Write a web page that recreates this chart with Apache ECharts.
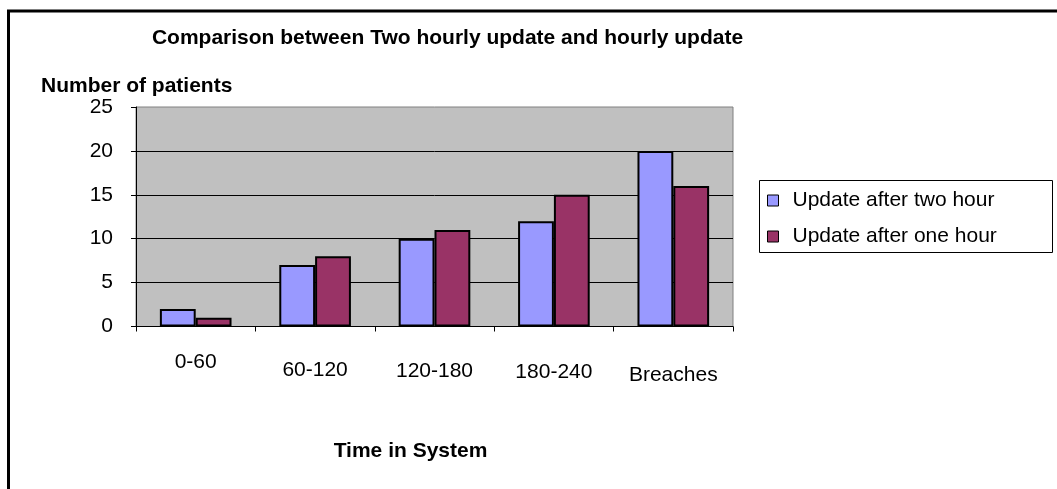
<!DOCTYPE html>
<html>
<head>
<meta charset="utf-8">
<script src="https://cdn.jsdelivr.net/npm/echarts@6/dist/echarts.min.js"></script>
<style>
  html, body { margin: 0; padding: 0; background: #fff; }
  #chart { width: 1057px; height: 489px; }
</style>
</head>
<body>
<div id="chart"></div>
<script>
var categories = ["0-60", "60-120", "120-180", "180-240", "Breaches"];
var twoHourly = [2, 7, 10, 12, 20];
var oneHourly = [1, 8, 11, 15, 16];
var seriesNames = ["Update after two hour", "Update after one hour"];
var yTicks = { min: 0, max: 25, step: 5 };

// the x labels sit at slightly different heights in the original
var labelDrop = [0, 8, 9, 10, 13];
var font = '"Liberation Sans", Arial, sans-serif';

var chart = echarts.init(document.getElementById("chart"));

chart.setOption({
  animation: false,
  textStyle: { fontFamily: font, color: "#000" },
  graphic: [
    {
      type: "polyline",
      shape: { points: [[8.5, 489], [8.5, 11], [1057, 11]] },
      style: { stroke: "#000", lineWidth: 3, fill: null }
    },
    {
      type: "text",
      x: 447.5,
      y: 38,
      style: {
        text: "Comparison between Two hourly update and hourly update",
        fontFamily: font, fontSize: 21, fontWeight: "bold", fill: "#000",
        align: "center", verticalAlign: "middle"
      }
    },
    {
      type: "text",
      x: 41,
      y: 86,
      style: {
        text: "Number of patients",
        fontFamily: font, fontSize: 21, fontWeight: "bold", fill: "#000",
        align: "left", verticalAlign: "middle"
      }
    },
    {
      type: "text",
      x: 410.5,
      y: 451,
      style: {
        text: "Time in System",
        fontFamily: font, fontSize: 21, fontWeight: "bold", fill: "#000",
        align: "center", verticalAlign: "middle"
      }
    },
    {
      type: "rect",
      shape: { x: 759.5, y: 180.5, width: 293, height: 72 },
      style: { stroke: "#000", lineWidth: 1, fill: null }
    }
  ],
  legend: {
    orient: "vertical",
    left: 767,
    top: 190,
    padding: 0,
    itemGap: 15,
    itemWidth: 11,
    itemHeight: 11,
    icon: "rect",
    itemStyle: { borderColor: "#000", borderWidth: 1 },
    textStyle: { fontFamily: font, fontSize: 21, color: "#000", padding: [0, 0, 0, 9] },
    data: seriesNames
  },
  grid: {
    left: 136,
    top: 107,
    right: 324,
    bottom: 162.5,
    show: true,
    backgroundColor: "#C0C0C0",
    borderColor: "#808080",
    borderWidth: 1
  },
  xAxis: {
    type: "category",
    data: categories,
    axisLine: { lineStyle: { color: "#000", width: 1 } },
    axisTick: { show: true, length: 5, lineStyle: { color: "#000" } },
    axisLabel: {
      margin: 25,
      interval: 0,
      formatter: function (v, i) {
        return "{d" + i + "|" + v + "}";
      },
      rich: {
        d0: { fontFamily: font, fontSize: 21, color: "#000", padding: [labelDrop[0], 0, 0, 0] },
        d1: { fontFamily: font, fontSize: 21, color: "#000", padding: [labelDrop[1], 0, 0, 0] },
        d2: { fontFamily: font, fontSize: 21, color: "#000", padding: [labelDrop[2], 0, 0, 0] },
        d3: { fontFamily: font, fontSize: 21, color: "#000", padding: [labelDrop[3], 0, 0, 0] },
        d4: { fontFamily: font, fontSize: 21, color: "#000", padding: [labelDrop[4], 0, 0, 0] }
      }
    }
  },
  yAxis: {
    type: "value",
    min: yTicks.min,
    max: yTicks.max,
    interval: yTicks.step,
    axisLine: { show: true, lineStyle: { color: "#000", width: 1 } },
    axisTick: { show: true, length: 5, lineStyle: { color: "#000" } },
    axisLabel: { margin: 23, fontFamily: font, fontSize: 21, color: "#000" },
    splitLine: {
      show: true,
      showMaxLine: false,
      lineStyle: { color: "#000", width: 1 }
    }
  },
  series: [
    {
      name: seriesNames[0],
      type: "bar",
      data: twoHourly,
      barGap: "0%",
      barCategoryGap: "40%",
      itemStyle: { color: "#9999FF", borderColor: "#000", borderWidth: 2 }
    },
    {
      name: seriesNames[1],
      type: "bar",
      data: oneHourly,
      barGap: "0%",
      barCategoryGap: "40%",
      itemStyle: { color: "#993366", borderColor: "#000", borderWidth: 2 }
    }
  ]
});
</script>
</body>
</html>
